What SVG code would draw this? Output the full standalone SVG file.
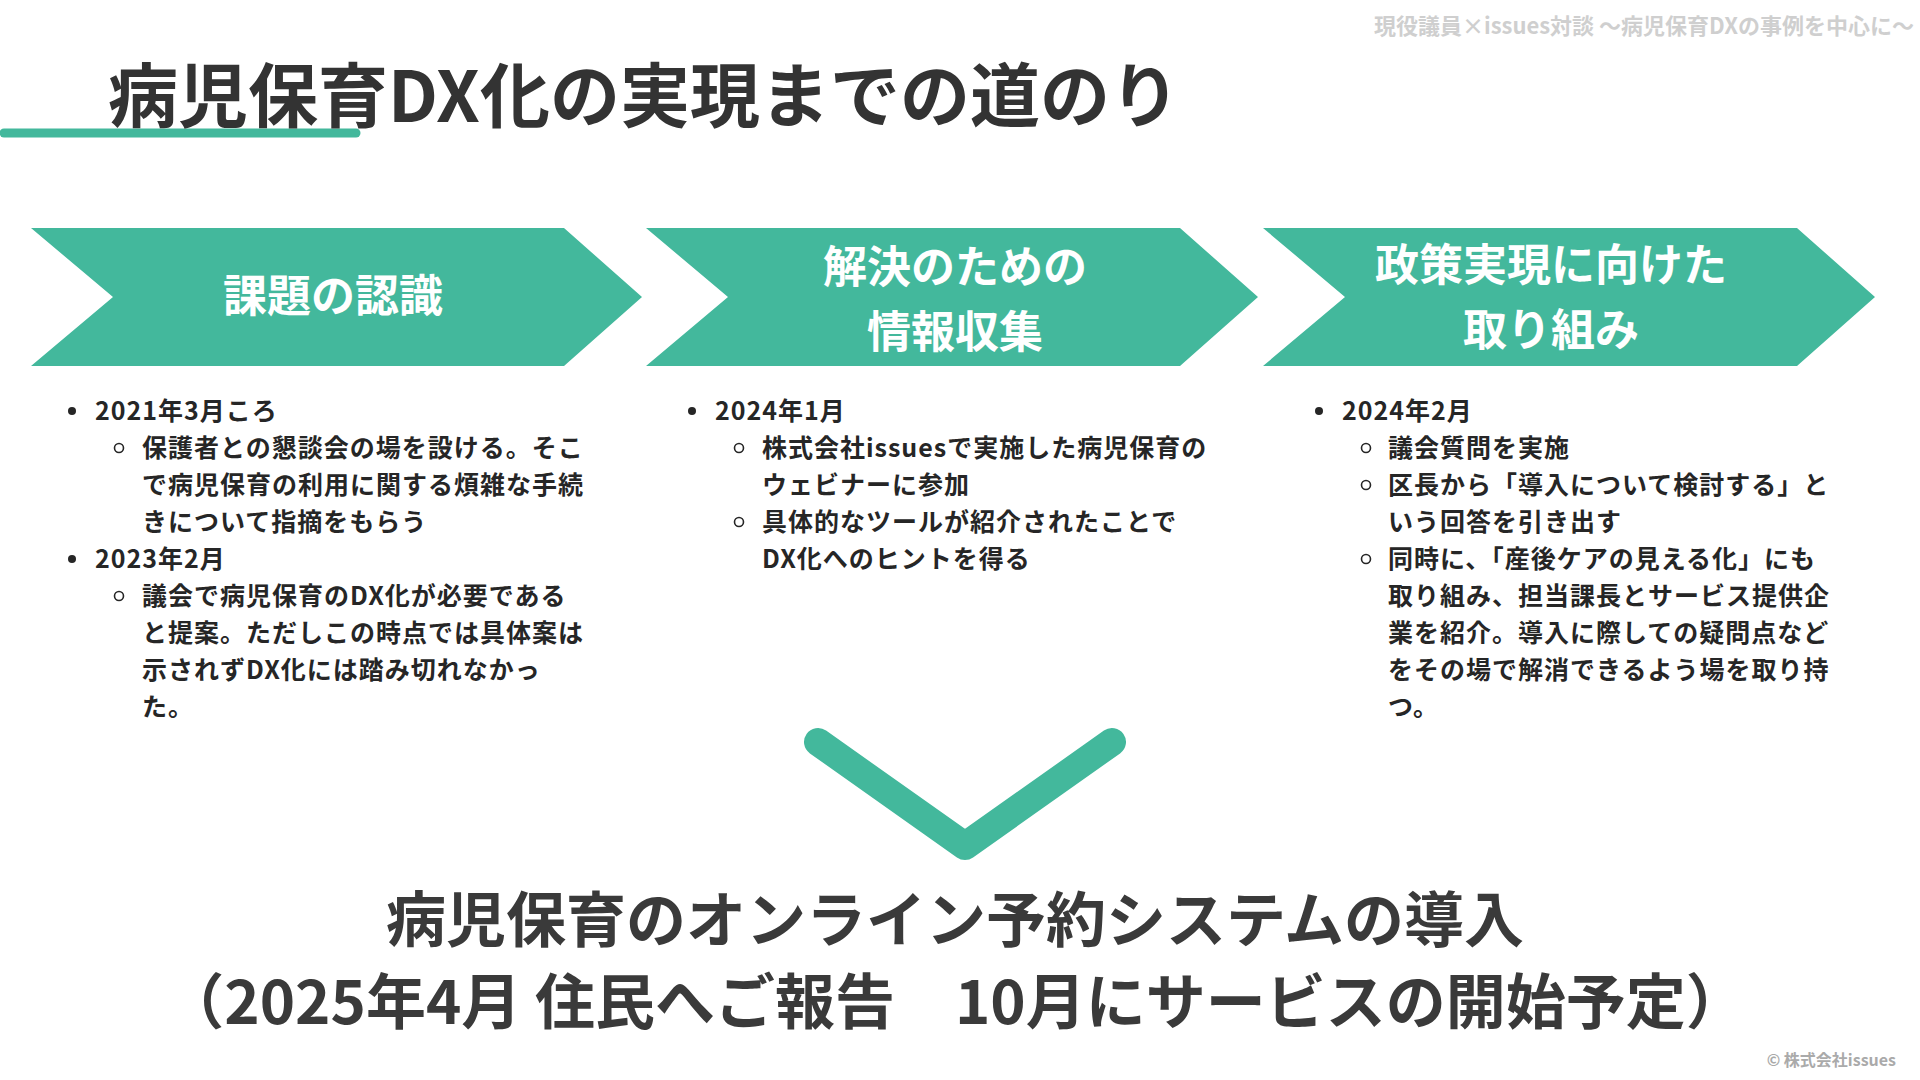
<svg xmlns="http://www.w3.org/2000/svg" width="1920" height="1080" viewBox="0 0 1920 1080">
<style>
text{font-family:"Noto Sans CJK JP","Noto Sans",sans-serif;font-weight:700}
.chev{fill:#43B89C}
.ct{fill:#fff;font-size:44px;text-anchor:middle}
.b{fill:#262626;font-size:25px;letter-spacing:1px}
.big{fill:#3a3a3a;font-size:60px;text-anchor:middle}
.dot{fill:#262626}
.circ{fill:none;stroke:#262626;stroke-width:1.6}
</style>
<rect width="1920" height="1080" fill="#fff"/>
<text x="1914" y="34" font-size="22" fill="#cfcfcf" text-anchor="end" font-weight="700">現役議員×issues対談 ～病児保育DXの事例を中心に～</text>
<g id="title">
<line x1="4" y1="133" x2="356" y2="133" stroke="#43B89C" stroke-width="9" stroke-linecap="round"/>
<text x="108" y="122" font-size="70" fill="#333">病児保育DX化の実現までの道のり</text>
</g>
<g id="step1">
<polygon class="chev" points="31,228 564,228 642,297 564,366 31,366 113,297"/>
<text class="ct" x="333" y="312">課題の認識</text>
</g>
<g id="step2">
<polygon class="chev" points="646,228 1180,228 1258,297 1180,366 646,366 728,297"/>
<text class="ct" x="955" y="283">解決のための</text>
<text class="ct" x="955" y="348">情報収集</text>
</g>
<g id="step3">
<polygon class="chev" points="1263,228 1797,228 1875,297 1797,366 1263,366 1345,297"/>
<text class="ct" x="1551" y="281">政策実現に向けた</text>
<text class="ct" x="1551" y="346">取り組み</text>
</g>
<g id="notes1">
<circle class="dot" cx="72" cy="411" r="4"/>
<text class="b" x="95" y="420">2021年3月ころ</text>
<circle class="circ" cx="119" cy="448" r="4.5"/>
<text class="b" x="142" y="457">保護者との懇談会の場を設ける。そこ</text>
<text class="b" x="142" y="494">で病児保育の利用に関する煩雑な手続</text>
<text class="b" x="142" y="531">きについて指摘をもらう</text>
<circle class="dot" cx="72" cy="559" r="4"/>
<text class="b" x="95" y="568">2023年2月</text>
<circle class="circ" cx="119" cy="596" r="4.5"/>
<text class="b" x="142" y="605">議会で病児保育のDX化が必要である</text>
<text class="b" x="142" y="642">と提案。ただしこの時点では具体案は</text>
<text class="b" x="142" y="679">示されずDX化には踏み切れなかっ</text>
<text class="b" x="142" y="716">た。</text>
</g>
<g id="notes2">
<circle class="dot" cx="692" cy="411" r="4"/>
<text class="b" x="715" y="420">2024年1月</text>
<circle class="circ" cx="739" cy="448" r="4.5"/>
<text class="b" x="762" y="457">株式会社issuesで実施した病児保育の</text>
<text class="b" x="762" y="494">ウェビナーに参加</text>
<circle class="circ" cx="739" cy="522" r="4.5"/>
<text class="b" x="762" y="531">具体的なツールが紹介されたことで</text>
<text class="b" x="762" y="568">DX化へのヒントを得る</text>
</g>
<g id="notes3">
<circle class="dot" cx="1319" cy="411" r="4"/>
<text class="b" x="1342" y="420">2024年2月</text>
<circle class="circ" cx="1366" cy="448" r="4.5"/>
<text class="b" x="1388" y="457">議会質問を実施</text>
<circle class="circ" cx="1366" cy="485" r="4.5"/>
<text class="b" x="1388" y="494">区長から「導入について検討する」と</text>
<text class="b" x="1388" y="531">いう回答を引き出す</text>
<circle class="circ" cx="1366" cy="559" r="4.5"/>
<text class="b" x="1388" y="568">同時に、「産後ケアの見える化」にも</text>
<text class="b" x="1388" y="605">取り組み、担当課長とサービス提供企</text>
<text class="b" x="1388" y="642">業を紹介。導入に際しての疑問点など</text>
<text class="b" x="1388" y="679">をその場で解消できるよう場を取り持</text>
<text class="b" x="1388" y="716">つ。</text>
</g>
<g id="connectors">
<polyline points="818,742 965,846 1112,742" fill="none" stroke="#43B89C" stroke-width="28" stroke-linecap="round" stroke-linejoin="round"/>
</g>
<g id="result">
<text class="big" x="955" y="942">病児保育のオンライン予約システムの導入</text>
<text class="big" x="955" y="1024">（2025年4月 住民へご報告　10月にサービスの開始予定）</text>
</g>
<text x="1896" y="1066" font-size="16" fill="#aaa" text-anchor="end">© 株式会社issues</text>
</svg>
